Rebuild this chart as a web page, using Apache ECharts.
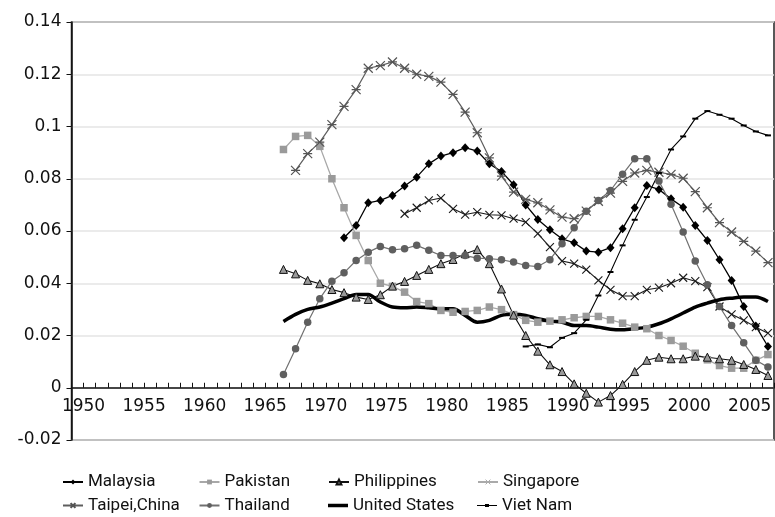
<!DOCTYPE html>
<html>
<head>
<meta charset="utf-8">
<script src="https://cdn.jsdelivr.net/npm/echarts@6/dist/echarts.min.js"></script>
<style>
  html, body { margin: 0; padding: 0; background: #fff; }
  #chart { width: 775px; height: 517px; }
</style>
</head>
<body>
<div id="chart"></div>
<script>
// Category axis: one slot per year
const firstYear = 1950;
const lastYear = 2007;
const yTicks = { min: -0.02, max: 0.14, step: 0.02 };

// Each series: first year with data, then yearly values
const malaysiaStart = 1972;
const malaysia = [0.0574, 0.0621, 0.0708, 0.0717, 0.0736, 0.0772, 0.0806, 0.0857, 0.0887, 0.0900,
  0.0919, 0.0906, 0.0857, 0.0828, 0.0777, 0.0700, 0.0644, 0.0605, 0.0570, 0.0555,
  0.0523, 0.0519, 0.0536, 0.0609, 0.0689, 0.0774, 0.0759, 0.0723, 0.0691, 0.0621,
  0.0564, 0.0490, 0.0411, 0.0311, 0.0236, 0.0158];

const pakistanStart = 1967;
const pakistan = [0.0912, 0.0962, 0.0966, 0.0924, 0.0800, 0.0689, 0.0583,
  0.0487, 0.0400, 0.0388, 0.0366, 0.0330, 0.0322, 0.0296, 0.0289, 0.0292, 0.0296, 0.0309, 0.0299, 0.0280,
  0.0258, 0.0251, 0.0255, 0.0260, 0.0268, 0.0273, 0.0273, 0.0260, 0.0247, 0.0232, 0.0226,
  0.0200, 0.0181, 0.0159, 0.0132, 0.0107, 0.0085, 0.0075, 0.0075, 0.0105, 0.0127];

const philippinesStart = 1967;
const philippines = [0.0453, 0.0436, 0.0411, 0.0398, 0.0376, 0.0364, 0.0347, 0.0338, 0.0356, 0.0389,
  0.0407, 0.0430, 0.0453, 0.0475, 0.0491, 0.0513, 0.0529, 0.0475, 0.0378, 0.0278,
  0.0200, 0.0140, 0.0088, 0.0062, 0.0015, -0.0021, -0.0055, -0.0030, 0.0013, 0.0062,
  0.0105, 0.0117, 0.0111, 0.0111, 0.0121, 0.0117, 0.0111, 0.0105, 0.0089, 0.0070, 0.0047];

const singaporeStart = 1977;
const singapore = [0.0666, 0.0689, 0.0717, 0.0726, 0.0685, 0.0663, 0.0672, 0.0662, 0.0660, 0.0647,
  0.0634, 0.0590, 0.0538, 0.0485, 0.0475, 0.0452, 0.0411, 0.0375, 0.0351, 0.0351,
  0.0375, 0.0383, 0.0400, 0.0421, 0.0408, 0.0385, 0.0311, 0.0281, 0.0258, 0.0232, 0.0209];

const taipeiStart = 1968;
const taipei = [0.0832, 0.0896, 0.0940, 0.1007, 0.1077, 0.1141, 0.1223, 0.1233, 0.1247, 0.1223,
  0.1200, 0.1192, 0.1170, 0.1123, 0.1055, 0.0976, 0.0880, 0.0810, 0.0749,
  0.0721, 0.0708, 0.0681, 0.0653, 0.0647, 0.0676, 0.0714, 0.0745, 0.0790, 0.0822,
  0.0832, 0.0825, 0.0817, 0.0802, 0.0751, 0.0689, 0.0632, 0.0596, 0.0560, 0.0523, 0.0479];

const thailandStart = 1967;
const thailand = [0.0051, 0.0149, 0.0251, 0.0341, 0.0408, 0.0440, 0.0487, 0.0519, 0.0541, 0.0528,
  0.0532, 0.0545, 0.0526, 0.0506, 0.0506, 0.0506, 0.0496, 0.0494, 0.0490, 0.0481,
  0.0468, 0.0464, 0.0490, 0.0551, 0.0612, 0.0676, 0.0717, 0.0755, 0.0817, 0.0877,
  0.0877, 0.0791, 0.0702, 0.0596, 0.0485, 0.0394, 0.0311, 0.0238, 0.0172, 0.0105, 0.0079];

const unitedStatesStart = 1967;
const unitedStates = [0.0254, 0.0281, 0.0300, 0.0309, 0.0324, 0.0341, 0.0357, 0.0357, 0.0328, 0.0309,
  0.0306, 0.0309, 0.0306, 0.0302, 0.0302, 0.0277, 0.0251, 0.0258, 0.0277, 0.0281,
  0.0277, 0.0264, 0.0255, 0.0251, 0.0238, 0.0238, 0.0232, 0.0224, 0.0222, 0.0226,
  0.0232, 0.0245, 0.0264, 0.0286, 0.0309, 0.0324, 0.0337, 0.0343, 0.0347, 0.0347, 0.0330];

const vietNamStart = 1987;
const vietNam = [0.0158, 0.0166, 0.0155, 0.0191, 0.0209, 0.0260, 0.0353, 0.0443, 0.0545, 0.0643,
  0.0730, 0.0822, 0.0912, 0.0962, 0.1030, 0.1059, 0.1045, 0.1030, 0.1004, 0.0981, 0.0966];

const years = [];
for (let y = firstYear; y <= lastYear; y++) years.push(String(y));

// Place a series on the year axis, leaving earlier years empty
function onAxis(start, values) {
  const out = years.map(() => null);
  values.forEach((v, i) => { out[start - firstYear + i] = v; });
  return out;
}

const xMark = 'path://M0,0L10,10M10,0L0,10';
const asterisk = 'path://M0,0L10,10M10,0L0,10M0,5L10,5';

const chart = echarts.init(document.getElementById('chart'), null, { renderer: 'canvas' });

const axisFont = { fontFamily: 'DejaVu Sans', fontSize: 17, color: '#111' };
const legendFont = { fontFamily: 'Roboto, "Liberation Sans", sans-serif', fontSize: 17, color: '#111' };

// Legend laid out as a 4 x 2 table, one entry per cell
const legendCells = [
  ['Malaysia', 62, 0], ['Pakistan', 198.5, 0], ['Philippines', 328, 0], ['Singapore', 477, 0],
  ['Taipei,China', 62, 1], ['Thailand', 198.5, 1], ['United States', 328, 1], ['Viet Nam', 477, 1]
];
const legendOverrides = {
  'Singapore': { itemStyle: { color: 'transparent', borderColor: '#aaa', borderWidth: 1 }, lineStyle: { color: '#aaa' } },
  'United States': { icon: 'rect' },
  'Viet Nam': { icon: 'path://M0,4.4L20,4.4L20,5.6L0,5.6Z M8,3.6L12,3.6L12,6.4L8,6.4Z' }
};
const legendIconHeight = { 'United States': 3.5, 'Viet Nam': 10 };
const legends = legendCells.map(([name, left, row]) => ({
  orient: 'horizontal', left: left, top: 473.5 + row * 23.5,
  itemWidth: 20, itemHeight: legendIconHeight[name] || 6, itemGap: 0,
  padding: 0, textStyle: legendFont, selectedMode: false,
  data: [Object.assign({ name: name }, legendOverrides[name] || {})]
}));

chart.setOption({
  animation: false,
  backgroundColor: '#fff',
  grid: { left: 71.5, right: 1, top: 22, bottom: 77, show: true, borderColor: '#222', borderWidth: 1.5, backgroundColor: 'transparent' },
  legend: legends,
  xAxis: {
    type: 'category',
    data: years,
    boundaryGap: true,
    axisLine: { onZero: true, lineStyle: { color: '#111', width: 1.5 } },
    axisTick: { show: true, inside: true, length: 5, interval: 0, alignWithLabel: false, lineStyle: { color: '#111', width: 1 } },
    axisLabel: {
      interval: (i, v) => Number(v) % 5 === 0,
      margin: -42,
      padding: [0, 0, 0, 12],
      ...axisFont
    },
    splitLine: { show: false }
  },
  yAxis: {
    type: 'value',
    min: yTicks.min, max: yTicks.max, interval: yTicks.step,
    axisLine: { show: true, lineStyle: { color: '#111', width: 1.5 } },
    axisTick: { show: true, inside: false, length: 5, lineStyle: { color: '#111' } },
    axisLabel: { margin: 10, formatter: v => String(+v.toFixed(2)), ...axisFont },
    splitLine: { show: true, lineStyle: { color: '#e4e4e4', width: 1.5 } }
  },
  series: [
    {
      name: 'Malaysia', type: 'line', data: onAxis(malaysiaStart, malaysia), showAllSymbol: true,
      symbol: 'diamond', symbolSize: [8, 9],
      lineStyle: { color: '#000', width: 1.3 }, itemStyle: { color: '#000', borderWidth: 0 }
    },
    {
      name: 'Pakistan', type: 'line', data: onAxis(pakistanStart, pakistan), showAllSymbol: true,
      symbol: 'rect', symbolSize: 7.5,
      lineStyle: { color: '#a8a8a8', width: 1.3 }, itemStyle: { color: '#9a9a9a', borderWidth: 0 }
    },
    {
      name: 'Philippines', type: 'line', data: onAxis(philippinesStart, philippines), showAllSymbol: true,
      symbol: 'triangle', symbolSize: 8,
      lineStyle: { color: '#111', width: 1.1 }, itemStyle: { color: '#999', borderColor: '#111', borderWidth: 1 }
    },
    {
      name: 'Singapore', type: 'line', data: onAxis(singaporeStart, singapore), showAllSymbol: true,
      symbol: xMark, symbolSize: 8,
      lineStyle: { color: '#1a1a1a', width: 1.1 }, itemStyle: { color: 'transparent', borderColor: '#1a1a1a', borderWidth: 1.1 }
    },
    {
      name: 'Taipei,China', type: 'line', data: onAxis(taipeiStart, taipei), showAllSymbol: true,
      symbol: asterisk, symbolSize: 9,
      lineStyle: { color: '#5e5e5e', width: 1.2 }, itemStyle: { color: 'transparent', borderColor: '#555', borderWidth: 1.2 }
    },
    {
      name: 'Thailand', type: 'line', data: onAxis(thailandStart, thailand), showAllSymbol: true,
      symbol: 'circle', symbolSize: 7.5,
      lineStyle: { color: '#707070', width: 1.2 }, itemStyle: { color: '#5f5f5f', borderWidth: 0 }
    },
    {
      name: 'United States', type: 'line', data: onAxis(unitedStatesStart, unitedStates),
      symbol: 'none', smooth: 0.3,
      lineStyle: { color: '#000', width: 3.5 }, itemStyle: { color: '#000' }
    },
    {
      name: 'Viet Nam', type: 'line', data: onAxis(vietNamStart, vietNam), showAllSymbol: true,
      symbol: 'rect', symbolSize: [6, 2],
      lineStyle: { color: '#000', width: 1.1 }, itemStyle: { color: '#000', borderWidth: 0 }
    }
  ]
});
</script>
</body>
</html>
